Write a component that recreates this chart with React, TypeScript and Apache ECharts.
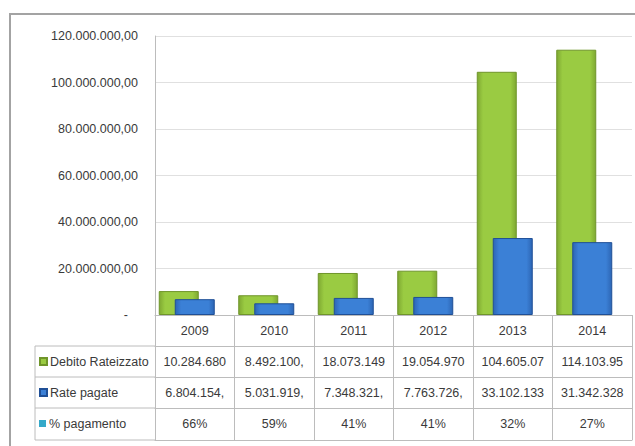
import React, { useEffect, useRef } from "react";
import * as echarts from "echarts";

const years = ["2009", "2010", "2011", "2012", "2013", "2014"];
const debito = [10284680, 8492100, 18073149, 19054970, 104605070, 114103950];
const ratePagate = [6804154, 5031919, 7348321, 7763726, 33102133, 31342328];
const pctPagamento = [0.66, 0.59, 0.41, 0.41, 0.32, 0.27];
const seriesNames = ["Debito Rateizzato", "Rate pagate", "% pagamento"];

const FONT = "'Liberation Sans', Arial, sans-serif";
const TEXT = "#3a3a3a";
const BORDER = "#bcbcbc";

function itFormat(v: number, dec: number): string {
  const fixed = v.toFixed(dec);
  const [intPart, decPart] = fixed.split(".");
  const withDots = intPart.replace(/\B(?=(\d{3})+(?!\d))/g, ".");
  return decPart !== undefined ? withDots + "," + decPart : withDots;
}

// Excel cell shows the value clipped to the column width (10 chars)
const cell = (v: number) => itFormat(v, 2).slice(0, 10);
const debitoCells = debito.map(cell);
const rateCells = ratePagate.map(cell);
const pctCells = pctPagamento.map((p) => Math.round(p * 100) + "%");

export default function App() {
  const ref = useRef<HTMLDivElement>(null);
  useEffect(() => {
    if (!ref.current) return;
    const chart = echarts.init(ref.current, undefined, { renderer: "svg" });
    const rowH = 31;
    const tableAxis = (data: string[], k: number, showLabel = true) => ({
      type: "category",
      gridIndex: 0,
      position: "bottom",
      offset: k * rowH,
      data,
      axisLine: { show: true, lineStyle: { color: BORDER, width: 1 } },
      axisTick: {
        show: k < 4,
        interval: 0,
        length: k === 3 ? rowH + 1 : rowH,
        lineStyle: { color: BORDER, width: 1 },
      },
      axisLabel: {
        show: showLabel,
        interval: 0,
        margin: 9,
        color: TEXT,
        fontFamily: FONT,
        fontSize: 12.5,
      },
      splitLine: { show: false },
    });
    const barStyle = (c1: string, c2: string, b: string) => ({
      color: new echarts.graphic.LinearGradient(0, 0, 1, 0, [
        { offset: 0, color: c2 },
        { offset: 0.15, color: c1 },
        { offset: 0.85, color: c1 },
        { offset: 1, color: c2 },
      ]),
      borderColor: b,
      borderWidth: 1,
    });
    const legendFor = (i: number) => ({
      orient: "vertical",
      left: 39,
      top: 346 + i * rowH + 8,
      padding: 0,
      itemWidth: 7,
      itemHeight: 7,
      itemGap: 0,
      icon: "rect",
      data: [seriesNames[i]],
      selectedMode: false,
      textStyle: {
        color: TEXT,
        fontFamily: FONT,
        fontSize: 12.5,
        lineHeight: 15,
        padding: [0, 0, 0, -2],
      },
    });
    chart.setOption({
      animation: false,
      backgroundColor: "#ffffff",
      grid: { left: 155, right: 3, top: 36, bottom: 131, containLabel: false },
      legend: [legendFor(0), legendFor(1), legendFor(2)],
      xAxis: [
        tableAxis(years, 0),
        tableAxis(debitoCells, 1),
        tableAxis(rateCells, 2),
        tableAxis(pctCells, 3),
        tableAxis(years.map(() => ""), 4.03, false),
      ],
      yAxis: {
        type: "value",
        min: 0,
        max: 120000000,
        interval: 20000000,
        axisLine: { show: true, lineStyle: { color: BORDER, width: 1 } },
        axisTick: { show: false },
        splitLine: { show: true, lineStyle: { color: "#e0e0e0", width: 1 } },
        axisLabel: {
          margin: 17,
          color: TEXT,
          fontFamily: FONT,
          fontSize: 12.5,
          formatter: (v: number) => (v === 0 ? "{z|-}" : itFormat(v, 2)),
          rich: {
            z: { color: TEXT, fontFamily: FONT, fontSize: 12.5, padding: [0, 10, 0, 0] },
          },
        },
      },
      series: [
        {
          name: seriesNames[0],
          type: "bar",
          xAxisIndex: 0,
          data: debito,
          barWidth: 40,
          barGap: "-60%",
          itemStyle: barStyle("#9acb42", "#7fa932", "#6f952a"),
        },
        {
          name: seriesNames[1],
          type: "bar",
          xAxisIndex: 0,
          data: ratePagate,
          barWidth: 40,
          barGap: "-60%",
          itemStyle: barStyle("#3b80d6", "#2d66b5", "#1f4f96"),
        },
        {
          name: seriesNames[2],
          type: "bar",
          xAxisIndex: 0,
          data: pctPagamento,
          barWidth: 40,
          barGap: "-60%",
          itemStyle: { color: "#35a9c9" },
        },
      ],
      graphic: [
        {
          type: "rect",
          shape: { x: 10, y: 14, width: 640, height: 450 },
          style: { fill: "none", stroke: "#a3a3a3", lineWidth: 2 },
          silent: true,
        },
        ...[346, 377, 408, 440].map((y) => ({
          type: "line",
          shape: { x1: 35, y1: y, x2: 155, y2: y },
          style: { stroke: BORDER, lineWidth: 1 },
          silent: true,
        })),
        {
          type: "line",
          shape: { x1: 35, y1: 346, x2: 35, y2: 440 },
          style: { stroke: BORDER, lineWidth: 1 },
          silent: true,
        },
      ],
    });
    return () => chart.dispose();
  }, []);
  return (
    <div
      ref={ref}
      style={{ position: "absolute", left: 0, top: 0, width: 635, height: 446 }}
    />
  );
}
